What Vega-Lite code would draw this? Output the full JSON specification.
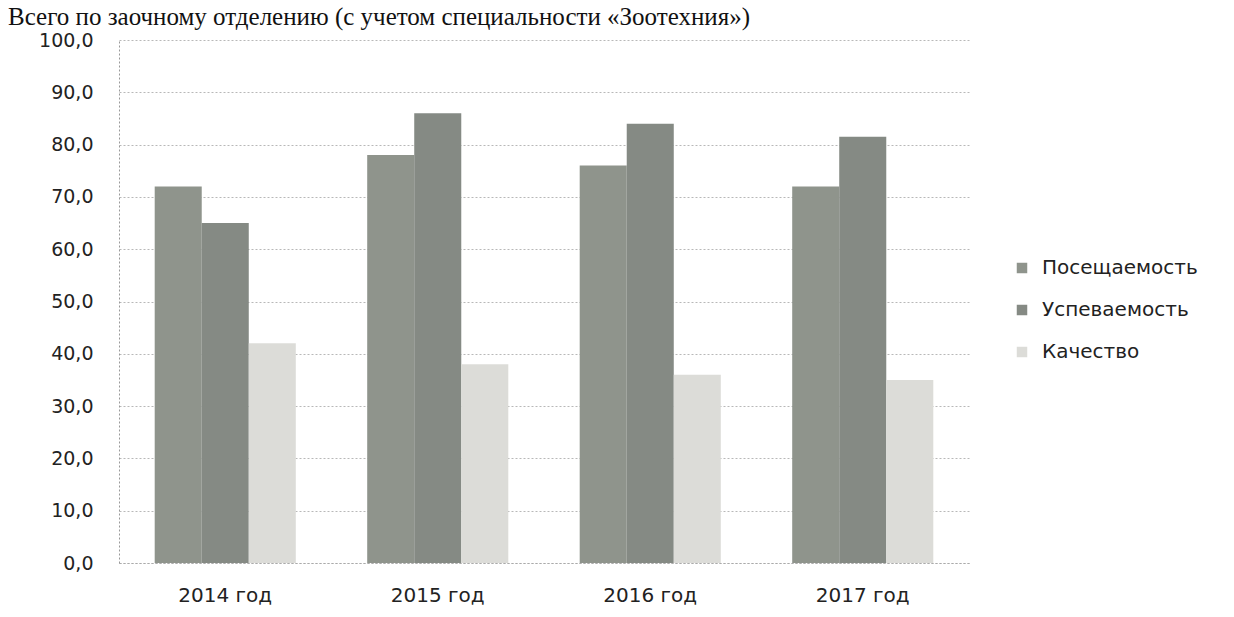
{
  "$schema": "https://vega.github.io/schema/vega-lite/v6.json",
  "autosize": "none",
  "width": 850,
  "height": 523,
  "padding": {"left": 119, "top": 40, "right": 265, "bottom": 54},
  "background": "white",
  "title": {
    "text": "Всего по заочному отделению (с учетом специальности «Зоотехния»)",
    "font": "Liberation Serif",
    "fontSize": 25,
    "fontWeight": "normal",
    "color": "#111111",
    "anchor": "start",
    "frame": "group",
    "baseline": "alphabetic",
    "offset": 0,
    "dy": 19,
    "dx": -111
  },
  "data": {
    "values": [
      {"year": "2014 год", "series": "Посещаемость", "value": 72},
      {"year": "2014 год", "series": "Успеваемость", "value": 65},
      {"year": "2014 год", "series": "Качество", "value": 42},
      {"year": "2015 год", "series": "Посещаемость", "value": 78},
      {"year": "2015 год", "series": "Успеваемость", "value": 86},
      {"year": "2015 год", "series": "Качество", "value": 38},
      {"year": "2016 год", "series": "Посещаемость", "value": 76},
      {"year": "2016 год", "series": "Успеваемость", "value": 84},
      {"year": "2016 год", "series": "Качество", "value": 36},
      {"year": "2017 год", "series": "Посещаемость", "value": 72},
      {"year": "2017 год", "series": "Успеваемость", "value": 81.5},
      {"year": "2017 год", "series": "Качество", "value": 35}
    ]
  },
  "mark": {"type": "bar"},
  "encoding": {
    "x": {
      "field": "year",
      "type": "nominal",
      "sort": null,
      "scale": {"paddingInner": 0.336, "paddingOuter": 0.168},
      "axis": {
        "title": null,
        "labelAngle": 0,
        "labelFont": "DejaVu Sans",
        "labelFontSize": 20,
        "labelColor": "#222222",
        "labelPadding": 22,
        "ticks": false,
        "domainColor": "#aaaaaa",
        "domainDash": [2, 2],
        "grid": false
      }
    },
    "xOffset": {
      "field": "series",
      "type": "nominal",
      "sort": ["Посещаемость", "Успеваемость", "Качество"],
      "scale": {"paddingInner": 0, "paddingOuter": 0}
    },
    "y": {
      "field": "value",
      "type": "quantitative",
      "scale": {"domain": [0, 100], "nice": false},
      "axis": {
        "title": null,
        "values": [0, 10, 20, 30, 40, 50, 60, 70, 80, 90, 100],
        "labelExpr": "replace(format(datum.value, '.1f'), '.', ',')",
        "labelFont": "DejaVu Sans",
        "labelFontSize": 19,
        "labelColor": "#222222",
        "labelPadding": 26,
        "ticks": false,
        "domainColor": "#999999",
        "domainDash": [2, 2],
        "gridColor": "#b8b8b8",
        "gridDash": [2, 2],
        "gridWidth": 1
      }
    },
    "color": {
      "field": "series",
      "type": "nominal",
      "sort": ["Посещаемость", "Успеваемость", "Качество"],
      "scale": {
        "domain": ["Посещаемость", "Успеваемость", "Качество"],
        "range": ["#8f948c", "#858a84", "#dcdcd8"]
      },
      "legend": {
        "title": null,
        "orient": "none",
        "legendX": 893,
        "legendY": 218,
        "symbolType": "square",
        "symbolSize": 110,
        "symbolStrokeWidth": 0,
        "labelFont": "DejaVu Sans",
        "labelFontSize": 20,
        "labelColor": "#222222",
        "rowPadding": 22,
        "labelOffset": 10
      }
    }
  },
  "config": {
    "view": {"stroke": null}
  }
}
